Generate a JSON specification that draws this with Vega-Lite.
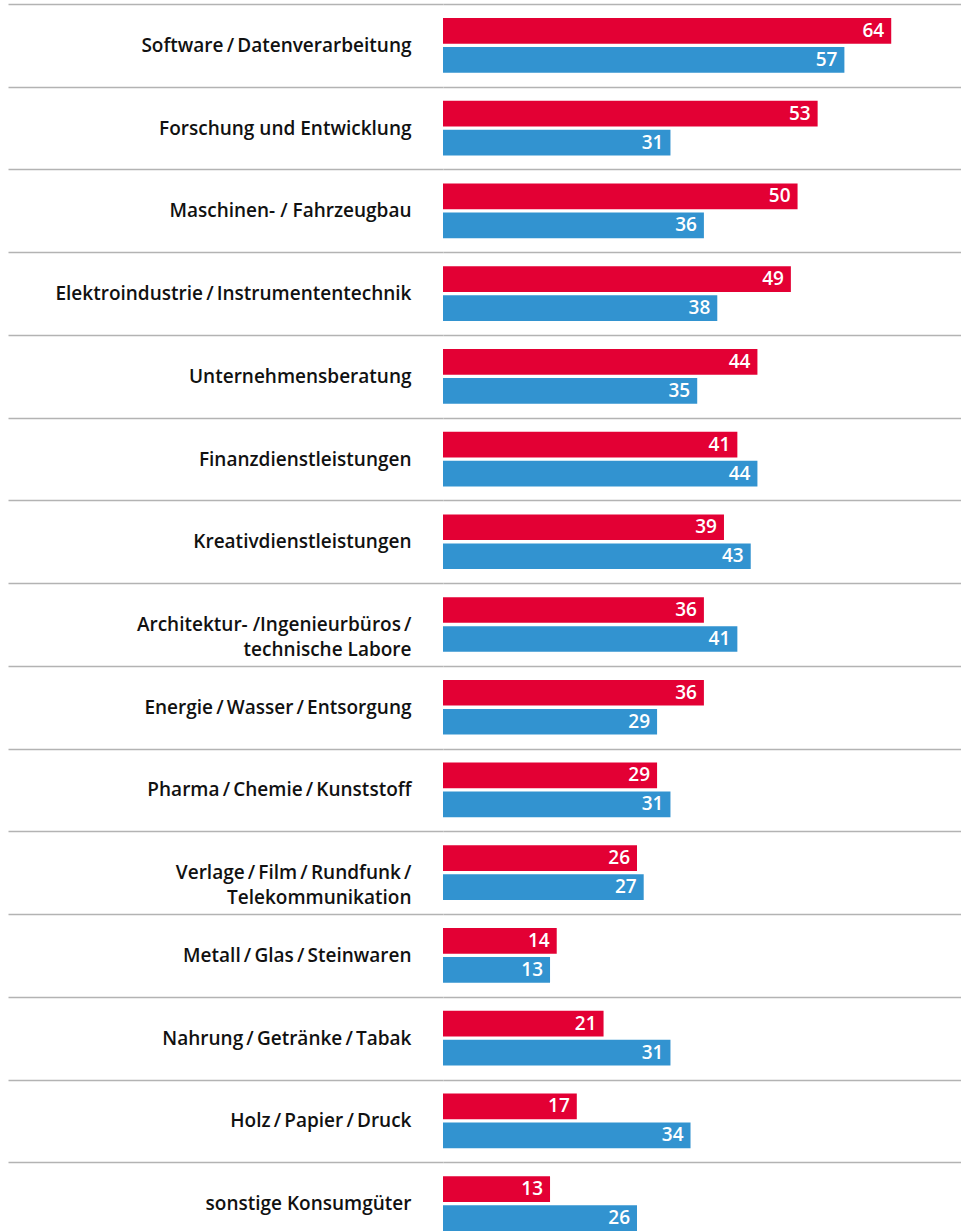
{
  "$schema": "https://vega.github.io/schema/vega-lite/v6.json",
  "autosize": {"type": "none"},
  "padding": {"left": 443, "top": 4, "right": 0, "bottom": 0},
  "width": 518,
  "height": 1241,
  "background": "white",
  "config": {"view": {"stroke": null}},
  "data": {
    "values": [
      {"branche": "Software\u2009/\u2009Datenverarbeitung", "reihe": "Serie 1", "wert": 64},
      {"branche": "Software\u2009/\u2009Datenverarbeitung", "reihe": "Serie 2", "wert": 57},
      {"branche": "Forschung und Entwicklung", "reihe": "Serie 1", "wert": 53},
      {"branche": "Forschung und Entwicklung", "reihe": "Serie 2", "wert": 31},
      {"branche": "Maschinen- / Fahrzeugbau", "reihe": "Serie 1", "wert": 50},
      {"branche": "Maschinen- / Fahrzeugbau", "reihe": "Serie 2", "wert": 36},
      {"branche": "Elektroindustrie\u2009/\u2009Instrumententechnik", "reihe": "Serie 1", "wert": 49},
      {"branche": "Elektroindustrie\u2009/\u2009Instrumententechnik", "reihe": "Serie 2", "wert": 38},
      {"branche": "Unternehmensberatung", "reihe": "Serie 1", "wert": 44},
      {"branche": "Unternehmensberatung", "reihe": "Serie 2", "wert": 35},
      {"branche": "Finanzdienstleistungen", "reihe": "Serie 1", "wert": 41},
      {"branche": "Finanzdienstleistungen", "reihe": "Serie 2", "wert": 44},
      {"branche": "Kreativdienstleistungen", "reihe": "Serie 1", "wert": 39},
      {"branche": "Kreativdienstleistungen", "reihe": "Serie 2", "wert": 43},
      {"branche": "Architektur- /Ingenieurbüros\u2009/|technische Labore", "reihe": "Serie 1", "wert": 36},
      {"branche": "Architektur- /Ingenieurbüros\u2009/|technische Labore", "reihe": "Serie 2", "wert": 41},
      {"branche": "Energie\u2009/\u2009Wasser\u2009/\u2009Entsorgung", "reihe": "Serie 1", "wert": 36},
      {"branche": "Energie\u2009/\u2009Wasser\u2009/\u2009Entsorgung", "reihe": "Serie 2", "wert": 29},
      {"branche": "Pharma\u2009/\u2009Chemie\u2009/\u2009Kunststoff", "reihe": "Serie 1", "wert": 29},
      {"branche": "Pharma\u2009/\u2009Chemie\u2009/\u2009Kunststoff", "reihe": "Serie 2", "wert": 31},
      {"branche": "Verlage\u2009/\u2009Film\u2009/\u2009Rundfunk\u2009/|Telekommunikation", "reihe": "Serie 1", "wert": 26},
      {"branche": "Verlage\u2009/\u2009Film\u2009/\u2009Rundfunk\u2009/|Telekommunikation", "reihe": "Serie 2", "wert": 27},
      {"branche": "Metall\u2009/\u2009Glas\u2009/\u2009Steinwaren", "reihe": "Serie 1", "wert": 14},
      {"branche": "Metall\u2009/\u2009Glas\u2009/\u2009Steinwaren", "reihe": "Serie 2", "wert": 13},
      {"branche": "Nahrung\u2009/\u2009Getränke\u2009/\u2009Tabak", "reihe": "Serie 1", "wert": 21},
      {"branche": "Nahrung\u2009/\u2009Getränke\u2009/\u2009Tabak", "reihe": "Serie 2", "wert": 31},
      {"branche": "Holz\u2009/\u2009Papier\u2009/\u2009Druck", "reihe": "Serie 1", "wert": 17},
      {"branche": "Holz\u2009/\u2009Papier\u2009/\u2009Druck", "reihe": "Serie 2", "wert": 34},
      {"branche": "sonstige Konsumgüter", "reihe": "Serie 1", "wert": 13},
      {"branche": "sonstige Konsumgüter", "reihe": "Serie 2", "wert": 26}
    ]
  },
  "encoding": {
    "y": {
      "field": "branche",
      "type": "nominal",
      "sort": null,
      "scale": {"paddingInner": 0, "paddingOuter": 0},
      "axis": {
        "title": null,
        "domain": false,
        "ticks": true,
        "tickBand": "extent",
        "tickSize": 435,
        "tickColor": "#b3b3b3",
        "tickWidth": 1.5,
        "grid": true,
        "gridColor": "#b3b3b3",
        "gridWidth": 1.5,
        "gridOpacity": 1,
        "labelPadding": -403,
        "labelFont": "Open Sans",
        "labelFontSize": 19,
        "labelFontWeight": 600,
        "labelColor": "#111111",
        "labelLimit": 600,
        "labelLineHeight": 25,
        "labelAlign": "right",
        "labelBaseline": "middle",
        "labelExpr": "split(datum.label, '|')"
      }
    },
    "yOffset": {
      "field": "reihe",
      "type": "nominal",
      "sort": ["Serie 1", "Serie 2"],
      "scale": {"paddingInner": 0.114, "paddingOuter": 0.483}
    }
  },
  "layer": [
    {
      "mark": {"type": "bar"},
      "encoding": {
        "x": {
          "field": "wert",
          "type": "quantitative",
          "scale": {"domain": [-3, 74.43], "zero": false, "nice": false},
          "axis": null
        },
        "x2": {"datum": -3},
        "color": {
          "field": "reihe",
          "type": "nominal",
          "scale": {"domain": ["Serie 1", "Serie 2"], "range": ["#e30034", "#3293d0"]},
          "legend": null
        }
      }
    },
    {
      "mark": {
        "type": "text",
        "align": "right",
        "baseline": "middle",
        "dx": -7,
        "color": "white",
        "font": "Open Sans",
        "fontSize": 19,
        "fontWeight": 600
      },
      "encoding": {
        "x": {"field": "wert", "type": "quantitative"},
        "text": {"field": "wert", "type": "quantitative"}
      }
    }
  ]
}
